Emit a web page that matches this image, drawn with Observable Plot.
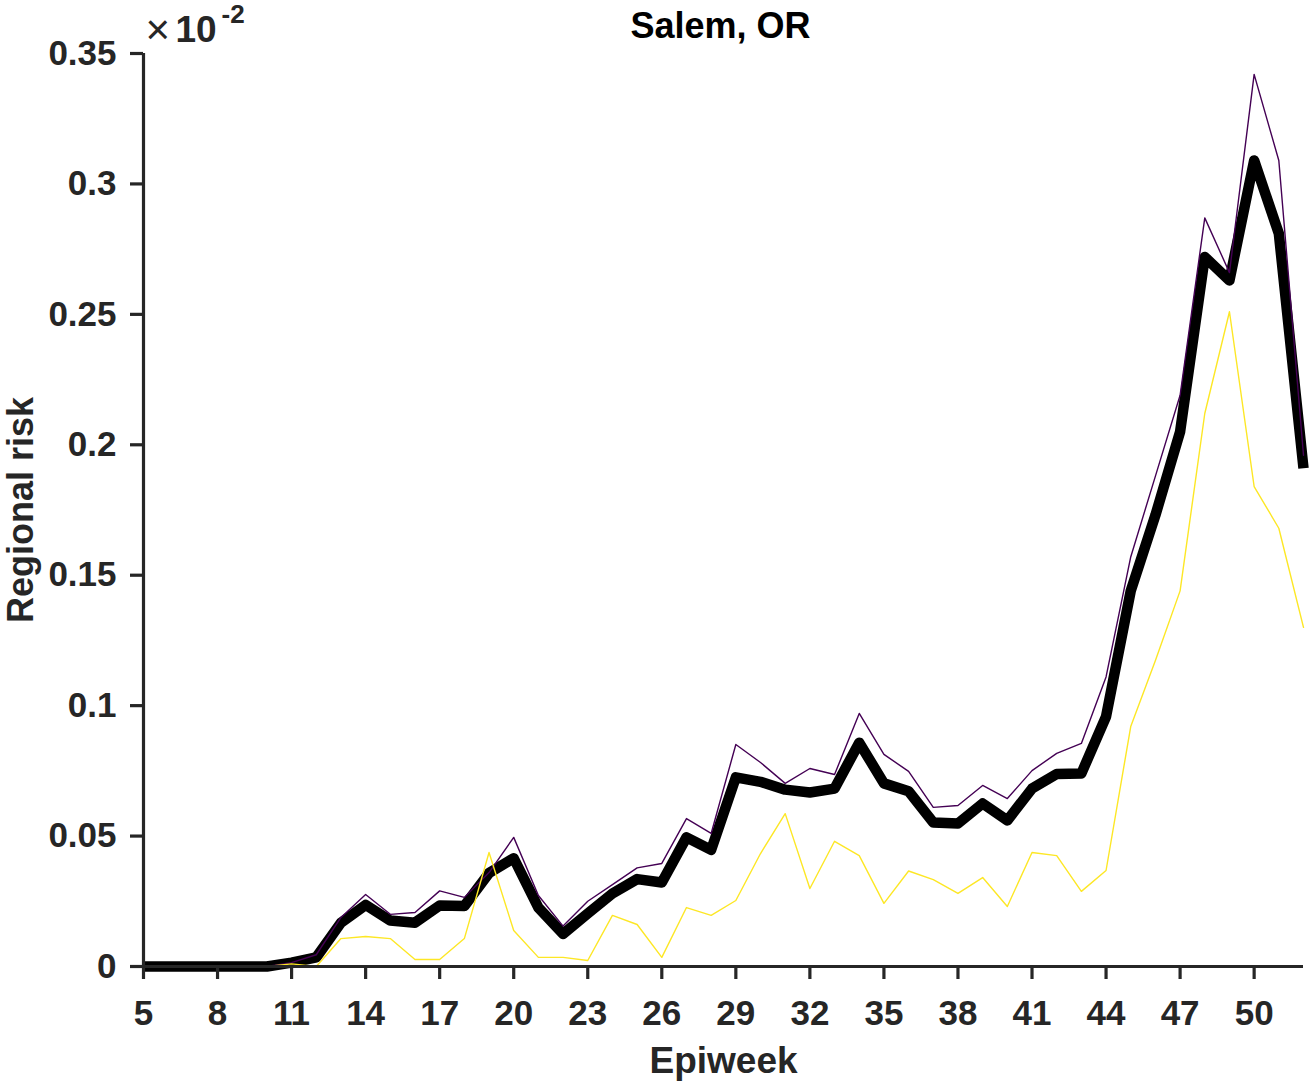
<!DOCTYPE html>
<html>
<head>
<meta charset="utf-8">
<script src="https://cdn.jsdelivr.net/npm/d3@7"></script>
<script src="https://cdn.jsdelivr.net/npm/@observablehq/plot@0.6"></script>
<style>
  html, body { margin: 0; padding: 0; background: #fff; }
  #chart svg { display: block; }
</style>
</head>
<body>
<div id="chart"></div>
<script>
const weeks = d3.range(5, 53);
const xTicks = [5, 8, 11, 14, 17, 20, 23, 26, 29, 32, 35, 38, 41, 44, 47, 50];
const yTicks = [0, 0.05, 0.1, 0.15, 0.2, 0.25, 0.3, 0.35];

// Regional risk (x10^-2), weeks 5..52
const meanRisk = [0, 0, 0, 0, 0, 0, 0.0015, 0.0035, 0.0168, 0.0236, 0.0176, 0.0168, 0.0234, 0.0232, 0.0358, 0.0415,
  0.0226, 0.0125, 0.0203, 0.0280, 0.0335, 0.0322, 0.0495, 0.0447, 0.0725, 0.0708, 0.0678, 0.0667, 0.0682, 0.0858,
  0.0702, 0.0672, 0.0552, 0.0548, 0.0625, 0.0560, 0.0682, 0.0738, 0.0740, 0.0958, 0.1440, 0.1730, 0.2050, 0.2720,
  0.2630, 0.3090, 0.2810, 0.1910];
const upperRisk = [0, 0, 0, 0, 0, 0, 0.0015, 0.0045, 0.0188, 0.0276, 0.0200, 0.0207, 0.0290, 0.0265, 0.0360, 0.0495,
  0.0272, 0.0155, 0.0250, 0.0314, 0.0378, 0.0395, 0.0567, 0.0510, 0.0851, 0.0782, 0.0702, 0.0759, 0.0736, 0.0970,
  0.0813, 0.0748, 0.0610, 0.0617, 0.0694, 0.0644, 0.0751, 0.0817, 0.0855, 0.1110, 0.1570, 0.1880, 0.2190, 0.2870,
  0.2660, 0.3420, 0.3090, 0.1960];
const lowerRisk = [0, 0, 0, 0, 0, 0, 0.0010, 0.0000, 0.0107, 0.0115, 0.0107, 0.0027, 0.0027, 0.0107, 0.0437, 0.0138,
  0.0035, 0.0035, 0.0023, 0.0196, 0.0161, 0.0035, 0.0226, 0.0196, 0.0253, 0.0433, 0.0586, 0.0299, 0.0480, 0.0425,
  0.0242, 0.0366, 0.0333, 0.0280, 0.0341, 0.0230, 0.0437, 0.0425, 0.0288, 0.0368, 0.0920, 0.1173, 0.1440, 0.2120,
  0.2510, 0.1840, 0.1680, 0.1300];

const titleText = "Salem, OR";
const xLabel = "Epiweek";
const yLabel = "Regional risk";

const ink = "#262626";
const font = "'Liberation Sans', Arial, Helvetica, sans-serif";

const chart = Plot.plot({
  width: 1310,
  height: 1086,
  marginLeft: 143,
  marginRight: 7,
  marginTop: 53,
  marginBottom: 120,
  style: { fontFamily: font, color: ink, background: "#fff", overflow: "visible" },
  x: { domain: [5, 52] },
  y: { domain: [0, 0.35] },
  marks: [
    Plot.line(meanRisk, { x: (d, i) => weeks[i], y: d => d, stroke: "#000", strokeWidth: 10.5, strokeLinejoin: "round", strokeLinecap: "butt" }),
    Plot.line(upperRisk, { x: (d, i) => weeks[i], y: d => d, stroke: "#440154", strokeWidth: 1.4 }),
    Plot.line(lowerRisk, { x: (d, i) => weeks[i], y: d => d, stroke: "#FDE725", strokeWidth: 1.4 }),
    Plot.axisX({ ticks: xTicks, tickSize: 13, tickPadding: 21, fontSize: 35, fontWeight: "bold", strokeWidth: 3.2, stroke: ink, fill: ink, label: null, tickFormat: d => String(d) }),
    Plot.axisY({ ticks: yTicks, tickSize: 13, tickPadding: 14, fontSize: 35, fontWeight: "bold", strokeWidth: 3.2, stroke: ink, fill: ink, label: null, tickFormat: d => String(d) }),
    Plot.ruleX([5], { stroke: ink, strokeWidth: 3.2 }),
    Plot.ruleY([0], { stroke: ink, strokeWidth: 3.2 }),
    Plot.text([titleText], { frameAnchor: "top", dy: -16, dx: -3, lineAnchor: "bottom", fontSize: 36, fontWeight: "bold", fill: "#000" }),
    Plot.text([xLabel], { frameAnchor: "bottom", dy: 106, lineAnchor: "bottom", fontSize: 37, fontWeight: "bold", fill: ink }),
    Plot.text([yLabel], { frameAnchor: "left", dx: -111, rotate: -90, textAnchor: "middle", lineAnchor: "bottom", fontSize: 36, fontWeight: "bold", fill: ink }),
    Plot.text(["\u00d7"], { frameAnchor: "top-left", dx: 2, dy: -10, lineAnchor: "bottom", textAnchor: "start", fontSize: 42, fill: ink }),
    Plot.text(["10"], { frameAnchor: "top-left", dx: 32, dy: -12, lineAnchor: "bottom", textAnchor: "start", fontSize: 37, fontWeight: "bold", fill: ink }),
    Plot.text(["-2"], { frameAnchor: "top-left", dx: 78, dy: -31, lineAnchor: "bottom", textAnchor: "start", fontSize: 26, fontWeight: "bold", fill: ink })
  ]
});
document.getElementById("chart").appendChild(chart);
</script>
</body>
</html>
